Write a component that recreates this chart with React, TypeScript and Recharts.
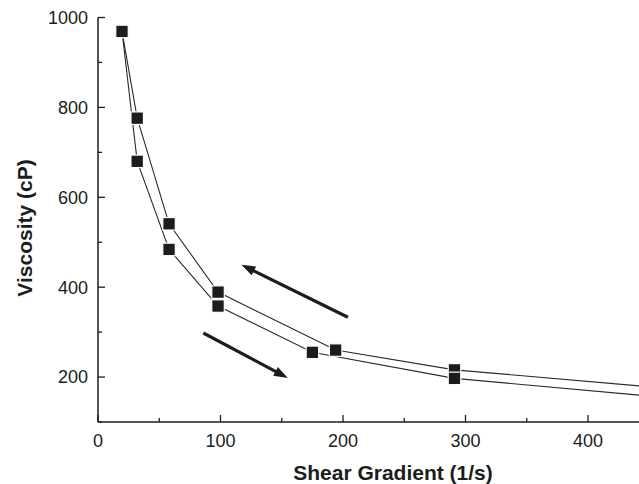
import React from 'react';
import { LineChart, Line, XAxis, YAxis, ReferenceLine } from 'recharts';

// Increasing shear (lower branch) and decreasing shear (upper branch)
const upperSeries = [
  { x: 19.6, y: 969 },
  { x: 32, y: 776 },
  { x: 58, y: 541 },
  { x: 98, y: 389 },
  { x: 194, y: 260 },
  { x: 291, y: 216 },
  { x: 490, y: 169 },
];
const lowerSeries = [
  { x: 19.6, y: 969 },
  { x: 32, y: 680 },
  { x: 58, y: 484 },
  { x: 98, y: 358 },
  { x: 175, y: 255 },
  { x: 291, y: 197 },
  { x: 490, y: 148 },
];

const xTicks = [0, 50, 100, 150, 200, 250, 300, 350, 400, 450];
const xTickLabels = [0, 100, 200, 300, 400];
const yTicks = [100, 200, 300, 400, 500, 600, 700, 800, 900, 1000];
const yTickLabels = [200, 400, 600, 800, 1000];

const arrowLeft = [{ x: 204, y: 333 }, { x: 117, y: 450 }];
const arrowRight = [{ x: 86, y: 298 }, { x: 155, y: 198 }];

const xTitle = 'Shear Gradient (1/s)';
const yTitle = 'Viscosity (cP)';

const INK = '#1c1c1c';
const FONT = '"Liberation Sans", Arial, Helvetica, sans-serif';
const X_MARGIN = 12;
const Y_MARGIN = 10;

const BottomTick = (props: any) => {
  const { x, y, payload } = props;
  const v = payload.value;
  const major = xTickLabels.includes(v);
  const axisY = y - X_MARGIN;
  return (
    <g>
      <line x1={x} x2={x} y1={axisY} y2={axisY - (major ? 7 : 4)} stroke={INK} strokeWidth={1.3} />
      {major && (
        <text x={x} y={y} dy="0.71em" textAnchor="middle" fontSize={18} fontFamily={FONT} fill={INK}>
          {v}
        </text>
      )}
    </g>
  );
};

const TopTick = (props: any) => {
  const { x, y, payload } = props;
  const v = payload.value;
  const major = xTickLabels.includes(v);
  return <line x1={x} x2={x} y1={y} y2={y + (major ? 7 : 4)} stroke={INK} strokeWidth={1.3} />;
};

const LeftTick = (props: any) => {
  const { x, y, payload } = props;
  const v = payload.value;
  const major = yTickLabels.includes(v);
  const axisX = x + Y_MARGIN;
  return (
    <g>
      <line x1={axisX} x2={axisX + (major ? 7 : 4)} y1={y} y2={y} stroke={INK} strokeWidth={1.3} />
      {major && (
        <text x={x} y={y} dy="0.355em" textAnchor="end" fontSize={18} fontFamily={FONT} fill={INK}>
          {v}
        </text>
      )}
    </g>
  );
};

const SquareDot = (props: any) => {
  const { cx, cy, index } = props;
  if (cx == null || cy == null) return <g key={index} />;
  const s = 12.5;
  return (
    <rect
      key={index}
      x={cx - s / 2}
      y={cy - s / 2}
      width={s}
      height={s}
      fill={INK}
      stroke="#ffffff"
      strokeWidth={1.2}
    />
  );
};

const ArrowShape = (props: any) => {
  const { x1, y1, x2, y2 } = props;
  const dx = x2 - x1;
  const dy = y2 - y1;
  const len = Math.hypot(dx, dy) || 1;
  const ux = dx / len;
  const uy = dy / len;
  const headLen = 14;
  const headW = 5;
  const bx = x2 - ux * headLen;
  const by = y2 - uy * headLen;
  const px = -uy;
  const py = ux;
  return (
    <g>
      <line x1={x1} y1={y1} x2={bx + ux * 2} y2={by + uy * 2} stroke={INK} strokeWidth={3.2} />
      <polygon
        points={`${x2},${y2} ${bx + px * headW},${by + py * headW} ${bx - px * headW},${by - py * headW}`}
        fill={INK}
      />
    </g>
  );
};

export default function App() {
  return (
    <div
      style={{
        position: 'absolute',
        left: 0,
        top: 0,
        width: 639,
        height: 484,
        overflow: 'hidden',
        background: '#fff',
      }}
    >
      <LineChart
        width={730}
        height={484}
        margin={{ top: 17.5, right: 19.5, bottom: 0, left: 0 }}
      >
        <XAxis
          dataKey="x"
          type="number"
          domain={[0, 500]}
          ticks={xTicks}
          interval={0}
          tickSize={0}
          tickMargin={X_MARGIN}
          tickLine={false}
          tick={<BottomTick />}
          axisLine={{ stroke: INK, strokeWidth: 1.5 }}
          height={62}
          allowDataOverflow
        />
        <XAxis
          xAxisId="top"
          dataKey="x"
          type="number"
          orientation="top"
          domain={[0, 500]}
          ticks={xTicks}
          interval={0}
          tickSize={0}
          tickMargin={0}
          tickLine={false}
          tick={<TopTick />}
          axisLine={{ stroke: INK, strokeWidth: 1.5 }}
          height={0}
          allowDataOverflow
        />
        <YAxis
          type="number"
          domain={[100, 1000]}
          ticks={yTicks}
          interval={0}
          tickSize={0}
          tickMargin={Y_MARGIN}
          tickLine={false}
          tick={<LeftTick />}
          axisLine={{ stroke: INK, strokeWidth: 1.5 }}
          width={98}
          allowDataOverflow
        />
        <Line
          data={upperSeries}
          dataKey="y"
          type="linear"
          stroke="#2a2a2a"
          strokeWidth={1.1}
          dot={SquareDot}
          activeDot={false}
          isAnimationActive={false}
        />
        <Line
          data={lowerSeries}
          dataKey="y"
          type="linear"
          stroke="#2a2a2a"
          strokeWidth={1.1}
          dot={SquareDot}
          activeDot={false}
          isAnimationActive={false}
        />
        <ReferenceLine segment={arrowLeft} shape={ArrowShape} ifOverflow="visible" />
        <ReferenceLine segment={arrowRight} shape={ArrowShape} ifOverflow="visible" />
      </LineChart>
      <svg
        width={639}
        height={484}
        style={{ position: 'absolute', left: 0, top: 0, pointerEvents: 'none' }}
      >
        <text
          x={393}
          y={480}
          textAnchor="middle"
          fontSize={21}
          fontWeight="bold"
          fontFamily={FONT}
          fill={INK}
        >
          {xTitle}
        </text>
        <text
          x={32}
          y={228}
          textAnchor="middle"
          fontSize={21}
          fontWeight="bold"
          fontFamily={FONT}
          fill={INK}
          transform="rotate(-90, 32, 228)"
        >
          {yTitle}
        </text>
      </svg>
    </div>
  );
}
